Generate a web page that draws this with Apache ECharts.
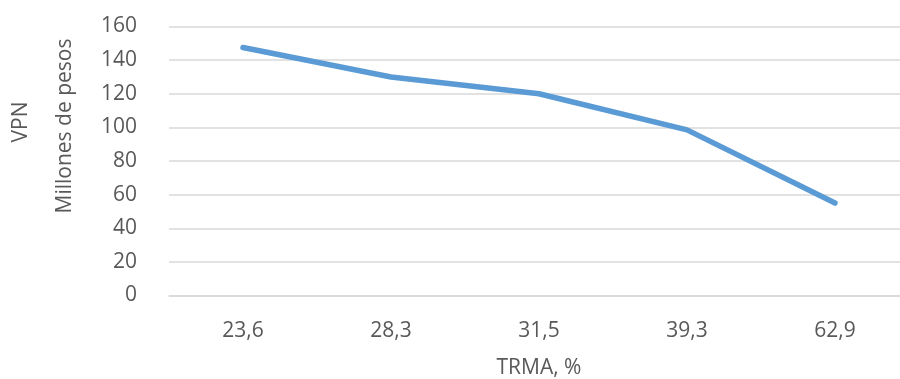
<!DOCTYPE html>
<html>
<head>
<meta charset="utf-8">
<script src="https://cdn.jsdelivr.net/npm/echarts@6/dist/echarts.min.js"></script>
<style>
  html, body { margin: 0; padding: 0; background: #fff; }
  #chart { width: 900px; height: 379px; }
</style>
</head>
<body>
<div id="chart"></div>
<script>
// datos
const categories = ['23,6', '28,3', '31,5', '39,3', '62,9']
const vpnValues = [147.5, 130, 120, 98.5, 55]
const yTicks = [0, 20, 40, 60, 80, 100, 120, 140, 160]

const textColor = '#595959'
const gridColor = '#d9d9d9'
const fontFamily = '"Open Sans", "Liberation Sans", sans-serif'
const fontSize = 21

const myChart = echarts.init(document.getElementById('chart'))
myChart.setOption({
  animation: false,
  grid: {
    left: 169,
    right: -9,
    top: 26.5,
    bottom: 83.5,
    containLabel: false,
    outerBoundsMode: 'none'
  },
  xAxis: {
    type: 'category',
    data: categories,
    boundaryGap: true,
    name: 'TRMA, %',
    nameLocation: 'middle',
    nameGap: 62,
    nameTextStyle: { color: textColor, fontSize: fontSize, fontFamily: fontFamily },
    axisTick: { show: false },
    axisLine: { lineStyle: { color: gridColor, width: 1.5 } },
    axisLabel: { color: textColor, fontSize: fontSize, fontFamily: fontFamily, margin: 25 }
  },
  yAxis: {
    type: 'value',
    min: yTicks[0],
    max: yTicks[yTicks.length - 1],
    interval: 20,
    axisLine: { show: false },
    axisTick: { show: false },
    splitLine: { lineStyle: { color: gridColor, width: 1.5 } },
    axisLabel: { color: textColor, fontSize: fontSize, fontFamily: fontFamily, margin: 32 }
  },
  // título del eje vertical en dos líneas
  graphic: [
    {
      type: 'text',
      x: 21,
      y: 122,
      rotation: Math.PI / 2,
      style: {
        text: 'VPN',
        fill: textColor,
        font: fontSize + 'px ' + fontFamily,
        align: 'center',
        verticalAlign: 'middle'
      }
    },
    {
      type: 'text',
      x: 65,
      y: 126,
      rotation: Math.PI / 2,
      style: {
        text: 'Millones de pesos',
        fill: textColor,
        font: fontSize + 'px ' + fontFamily,
        align: 'center',
        verticalAlign: 'middle'
      }
    }
  ],
  series: [{
    type: 'line',
    data: vpnValues,
    symbol: 'none',
    lineStyle: { color: '#5B9BD5', width: 5.5, cap: 'round', join: 'round' }
  }]
})
</script>
</body>
</html>
